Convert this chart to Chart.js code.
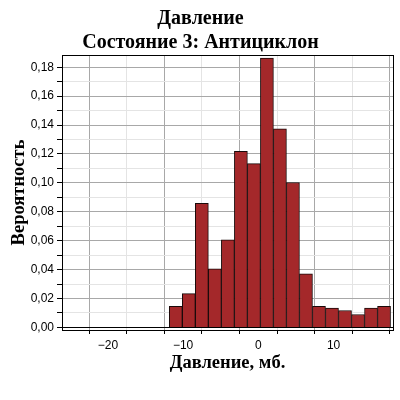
<!DOCTYPE html>
<html>
<head>
<meta charset="utf-8">
<script src="https://cdn.jsdelivr.net/npm/chart.js@4"></script>
<style>
  body { margin: 0; background: #fff; }
  #wrap { width: 400px; height: 400px; }
</style>
</head>
<body>
<div id="wrap"><canvas id="chart" width="400" height="400"></canvas></div>
<script>
// bin centres (mb) and probabilities
const binCenters = [-10.97, -9.24, -7.51, -5.78, -4.05, -2.32, -0.59, 1.14, 2.87,
  4.60, 6.33, 8.06, 9.79, 11.52, 13.25, 14.98, 16.71];
const probabilities = [0.0146, 0.0234, 0.0858, 0.0405, 0.0606, 0.1218, 0.1133,
  0.1863, 0.1374, 0.1003, 0.0371, 0.0146, 0.0133, 0.0117, 0.0089, 0.0133, 0.0146];
const xTicks = [-25, -20, -15, -10, -5, 0, 5, 10, 15];
const yTicks = [0, 0.01, 0.02, 0.03, 0.04, 0.05, 0.06, 0.07, 0.08, 0.09,
  0.10, 0.11, 0.12, 0.13, 0.14, 0.15, 0.16, 0.17, 0.18];

const serif = "'Liberation Serif', 'Times New Roman', serif";
const sans = "'Liberation Sans', Arial, sans-serif";

function isMajorY(v) { return Math.round(v * 100) % 2 === 0; }
function isMajorX(v) { return v % 10 === 0; }

// full black frame around the plot area
const framePlugin = {
  id: "frame",
  afterDraw(chart) {
    const a = chart.chartArea;
    const ctx = chart.ctx;
    ctx.save();
    ctx.strokeStyle = "#000";
    ctx.lineWidth = 1;
    ctx.strokeRect(Math.round(a.left) + 0.5, Math.round(a.top) + 0.5,
      Math.round(a.right - a.left), Math.round(a.bottom - a.top));
    ctx.restore();
  }
};

new Chart(document.getElementById("chart"), {
  type: "bar",
  data: {
    datasets: [{
      data: binCenters.map((x, i) => ({ x: x, y: probabilities[i] })),
      backgroundColor: "#a4282a",
      borderColor: "#1a0a0a",
      borderWidth: 1,
      barPercentage: 1,
      categoryPercentage: 1
    }]
  },
  options: {
    responsive: false,
    animation: false,
    layout: { padding: { top: 5, right: 7, bottom: 26, left: 8 } },
    plugins: {
      legend: { display: false },
      tooltip: { enabled: false },
      title: {
        display: true,
        text: ["Давление", "Состояние 3: Антициклон"],
        color: "#000",
        font: { family: serif, size: 20, weight: "bold" },
        lineHeight: 1.05,
        padding: { top: 2, bottom: 0 }
      }
    },
    scales: {
      x: {
        type: "linear",
        min: -26.1,
        max: 17.9,
        offset: false,
        afterBuildTicks(scale) { scale.ticks = xTicks.map(v => ({ value: v })); },
        afterFit(scale) { scale.height = 44; },
        ticks: {
          color: "#000",
          font: { family: sans, size: 12 },
          padding: 4,
          maxRotation: 0,
          autoSkip: false,
          callback: v => isMajorX(v) ? String(v).replace("-", "\u2212") : ""
        },
        grid: {
          color: ctx => (ctx.tick && !isMajorX(ctx.tick.value)) ? "#e4e4e4" : "#a8a8a8",
          tickColor: "#000",
          tickLength: 4
        },
        border: { color: "#000" },
        title: {
          display: true,
          text: "Давление, мб.",
          color: "#000",
          font: { family: serif, size: 18.5, weight: "bold" },
          padding: { top: 0, bottom: 0 }
        }
      },
      y: {
        min: -0.0018,
        max: 0.1885,
        afterBuildTicks(scale) { scale.ticks = yTicks.map(v => ({ value: v })); },
        afterFit(scale) { scale.width = 54; },
        ticks: {
          color: "#000",
          font: { family: sans, size: 12 },
          padding: 3,
          autoSkip: false,
          callback: v => isMajorY(v) ? v.toFixed(2).replace(".", ",") : ""
        },
        grid: {
          color: ctx => {
            if (!ctx.tick) return "#a8a8a8";
            if (ctx.tick.value === 0) return "#000";
            return isMajorY(ctx.tick.value) ? "#a8a8a8" : "#e4e4e4";
          },
          tickColor: "#000",
          tickLength: 5
        },
        border: { color: "#000" },
        title: {
          display: true,
          text: "Вероятность",
          color: "#000",
          font: { family: serif, size: 18.5, weight: "bold" },
          padding: { top: 0, bottom: 0 }
        }
      }
    }
  },
  plugins: [framePlugin]
});
</script>
</body>
</html>
